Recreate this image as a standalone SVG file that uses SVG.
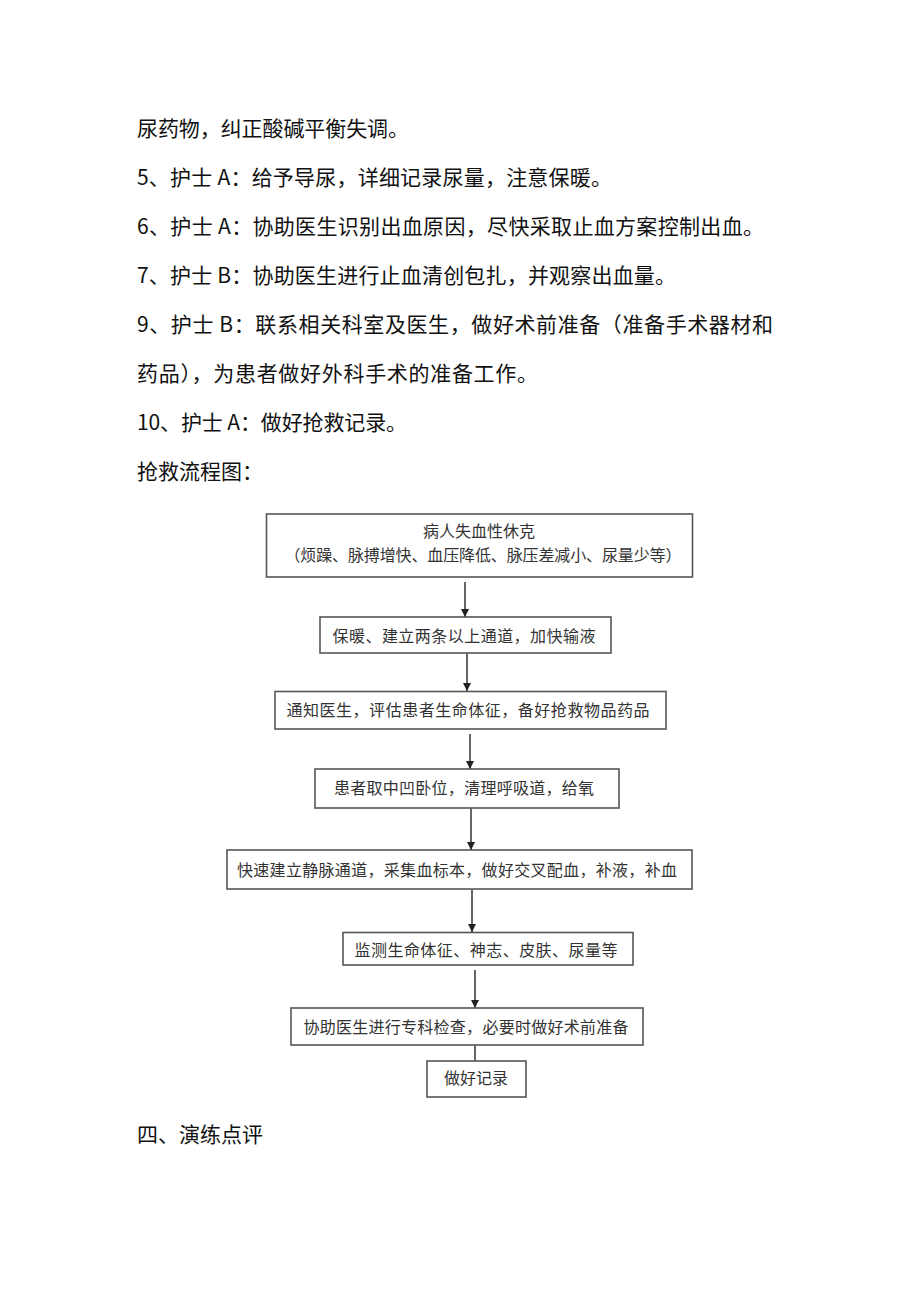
<svg xmlns="http://www.w3.org/2000/svg" width="920" height="1301" viewBox="0 0 920 1301">
<style>
.body{font-family:"Noto Sans CJK SC","Noto Sans",sans-serif;font-size:21px;fill:#111}
.box{fill:#fff;stroke:#555;stroke-width:1.6}
.bt{font-family:"Noto Sans CJK SC","Noto Sans",sans-serif;font-size:16px;fill:#333;text-anchor:middle}
.conn{stroke:#333;stroke-width:1.5;fill:none}
</style>
<defs>
<marker id="ah" viewBox="0 0 10 10" refX="10" refY="5" markerWidth="8" markerHeight="8" markerUnits="userSpaceOnUse" orient="auto">
<path d="M0,0 L10,5 L0,10 z" fill="#222"/>
</marker>
</defs>
<rect width="920" height="1301" fill="#fff"/>
<g id="body-text">
<text class="body" x="137" y="136" textLength="272" lengthAdjust="spacing">尿药物，纠正酸碱平衡失调。</text>
<text class="body" x="137" y="185" textLength="475" lengthAdjust="spacing">5、护士 A：给予导尿，详细记录尿量，注意保暖。</text>
<text class="body" x="137" y="234" textLength="627" lengthAdjust="spacing">6、护士 A：协助医生识别出血原因，尽快采取止血方案控制出血。</text>
<text class="body" x="137" y="283" textLength="539" lengthAdjust="spacing">7、护士 B：协助医生进行止血清创包扎，并观察出血量。</text>
<text class="body" x="137" y="332" textLength="636" lengthAdjust="spacing">9、护士 B：联系相关科室及医生，做好术前准备（准备手术器材和</text>
<text class="body" x="137" y="381" textLength="401" lengthAdjust="spacing">药品），为患者做好外科手术的准备工作。</text>
<text class="body" x="137" y="430" textLength="270" lengthAdjust="spacing">10、护士 A：做好抢救记录。</text>
<text class="body" x="137" y="479">抢救流程图：</text>
<text class="body" x="137" y="1142">四、演练点评</text>
</g>
<g id="connectors">
<line class="conn" x1="465" y1="582" x2="465" y2="617" marker-end="url(#ah)"/>
<line class="conn" x1="467" y1="653" x2="467" y2="691" marker-end="url(#ah)"/>
<line class="conn" x1="470" y1="734" x2="470" y2="769" marker-end="url(#ah)"/>
<line class="conn" x1="471" y1="808" x2="471" y2="850" marker-end="url(#ah)"/>
<line class="conn" x1="472" y1="890" x2="472" y2="932" marker-end="url(#ah)"/>
<line class="conn" x1="475" y1="970" x2="475" y2="1008" marker-end="url(#ah)"/>
<line class="conn" x1="475" y1="1045" x2="475" y2="1061"/>
</g>
<g id="n1">
<rect class="box" x="266.5" y="514" width="426" height="63"/>
<text class="bt" x="479" y="537">病人失血性休克</text>
<text class="bt" x="483" y="561" textLength="397" lengthAdjust="spacing">（烦躁、脉搏增快、血压降低、脉压差减小、尿量少等）</text>
</g>
<g id="n2">
<rect class="box" x="320" y="617" width="291" height="36"/>
<text class="bt" x="464" y="642" textLength="263" lengthAdjust="spacing">保暖、建立两条以上通道，加快输液</text>
</g>
<g id="n3">
<rect class="box" x="275" y="691.5" width="391" height="37.5"/>
<text class="bt" x="468" y="716" textLength="363" lengthAdjust="spacing">通知医生，评估患者生命体征，备好抢救物品药品</text>
</g>
<g id="n4">
<rect class="box" x="315" y="769" width="304" height="39"/>
<text class="bt" x="464" y="794" textLength="260" lengthAdjust="spacing">患者取中凹卧位，清理呼吸道，给氧</text>
</g>
<g id="n5">
<rect class="box" x="227" y="850" width="465" height="39"/>
<text class="bt" x="457" y="876" textLength="440" lengthAdjust="spacing">快速建立静脉通道，采集血标本，做好交叉配血，补液，补血</text>
</g>
<g id="n6">
<rect class="box" x="343" y="932.5" width="290" height="32.5"/>
<text class="bt" x="486" y="956" textLength="263" lengthAdjust="spacing">监测生命体征、神志、皮肤、尿量等</text>
</g>
<g id="n7">
<rect class="box" x="291" y="1008" width="352" height="37"/>
<text class="bt" x="466" y="1033" textLength="325" lengthAdjust="spacing">协助医生进行专科检查，必要时做好术前准备</text>
</g>
<g id="n8">
<rect class="box" x="427" y="1061" width="99" height="36"/>
<text class="bt" x="476" y="1084">做好记录</text>
</g>
</svg>
